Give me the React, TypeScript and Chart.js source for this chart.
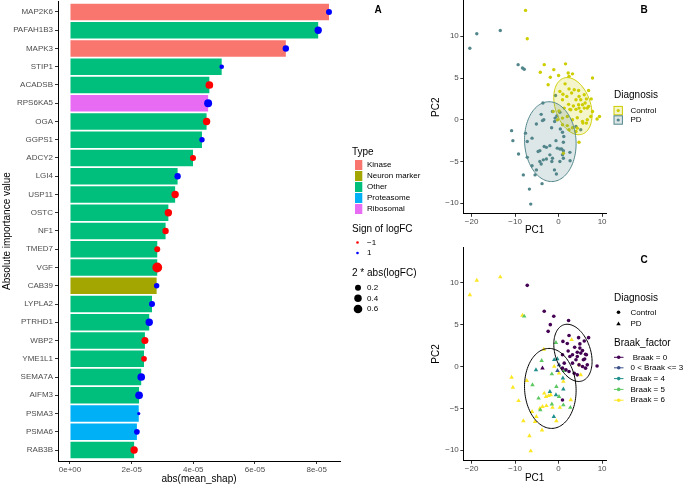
import React, { useEffect, useRef } from "react";
import { Chart, registerables } from "chart.js";
Chart.register(...registerables);

const FONT = "'Liberation Sans', Arial, Helvetica, sans-serif";
const AXIS_TEXT = "#4D4D4D";

// ---------------- Panel A data ----------------
const genes = ["MAP2K6", "PAFAH1B3", "MAPK3", "STIP1", "ACADSB", "RPS6KA5", "OGA", "GGPS1", "ADCY2", "LGI4", "USP11", "OSTC", "NF1", "TMED7", "VGF", "CAB39", "LYPLA2", "PTRHD1", "WBP2", "YME1L1", "SEMA7A", "AIFM3", "PSMA3", "PSMA6", "RAB3B"];
const meanShap = [8.40e-5, 8.05e-5, 7.00e-5, 4.92e-5, 4.52e-5, 4.48e-5, 4.43e-5, 4.28e-5, 3.99e-5, 3.49e-5, 3.41e-5, 3.19e-5, 3.10e-5, 2.83e-5, 2.83e-5, 2.81e-5, 2.66e-5, 2.57e-5, 2.43e-5, 2.40e-5, 2.31e-5, 2.24e-5, 2.23e-5, 2.17e-5, 2.08e-5];
const geneType = ["Kinase", "Other", "Kinase", "Other", "Other", "Ribosomal", "Other", "Other", "Other", "Other", "Other", "Other", "Other", "Other", "Other", "Neuron marker", "Other", "Other", "Other", "Other", "Other", "Other", "Proteasome", "Proteasome", "Other"];
const logFCSign = [1, 1, 1, 1, -1, 1, -1, 1, -1, 1, -1, -1, -1, -1, -1, 1, 1, 1, -1, -1, 1, 1, 1, 1, -1];
const logFCSize = [0.20, 0.38, 0.24, 0.08, 0.43, 0.48, 0.38, 0.14, 0.20, 0.24, 0.38, 0.38, 0.24, 0.20, 0.85, 0.14, 0.20, 0.38, 0.33, 0.17, 0.43, 0.43, 0.01, 0.17, 0.38];
const typeNames = ["Kinase", "Neuron marker", "Other", "Proteasome", "Ribosomal"];
const typeColors = ["#F8766D", "#A3A500", "#00BF7D", "#00B0F6", "#E76BF3"];
const signLabels = ["\u22121", "1"];
const signColors = ["#FF0000", "#0000FF"];
const sizeBreaks = [0.2, 0.4, 0.6];
const sizeBreakLabels = ["0.2", "0.4", "0.6"];
const shapTicks = [0, 2e-5, 4e-5, 6e-5, 8e-5];
const shapTickLabels = ["0e+00", "2e-05", "4e-05", "6e-05", "8e-05"];

// ---------------- Panels B / C data ----------------
const pcTicksX = [-20, -10, 0, 10];
const pcTicksY = [-10, -5, 0, 5, 10];

const controlB: number[][] = [[-7.6, 13.1], [-7.2, 9.7], [-3.3, 6.6], [1.6, 6.7], [-4.2, 5.7], [-1.1, 6.0], [-1.9, 5.1], [0.0, 5.3], [2.2, 5.6], [3.2, 5.5], [2.4, 5.2], [7.8, 5.0], [-2.4, 4.2], [1.5, 4.3], [2.4, 3.7], [3.6, 3.6], [0.3, 3.4], [4.6, 3.5], [1.0, 3.05], [1.9, 2.8], [3.0, 3.2], [5.9, 3.0], [6.9, 3.5], [4.7, 2.8], [4.0, 2.4], [5.1, 2.4], [7.5, 2.5], [6.4, 2.5], [0.9, 2.4], [2.3, 1.85], [3.4, 1.65], [4.6, 1.8], [5.5, 1.8], [6.1, 2.0], [6.9, 1.6], [5.9, 1.4], [4.7, 1.4], [4.0, 1.25], [2.6, 1.25], [-1.25, 1.0], [0.1, 1.05], [1.3, 1.4], [2.8, 1.2], [5.1, 1.0], [6.6, 1.4], [7.8, 1.0], [-0.25, 0.0], [0.9, 0.2], [2.0, 0.4], [3.2, 0.0], [4.3, 0.25], [5.5, -0.2], [6.6, 0.0], [7.4, 0.4], [0.9, -0.6], [2.0, -0.7], [3.2, -0.95], [4.3, -1.0], [5.6, -0.4], [6.4, -0.4], [2.4, -1.2], [4.0, -1.4], [8.85, 0.1], [9.4, 0.4], [4.7, -2.7], [1.1, -4.0]];
const pdB: number[][] = [[-20.4, 8.56], [-18.8, 10.3], [-13.4, 10.7], [-9.3, 6.6], [-8.3, 6.2], [-7.9, 6.05], [-3.6, 2.0], [-0.7, 2.9], [-10.8, -1.3], [-10.5, -2.5], [-9.2, -4.1], [-8.1, -6.6], [-6.7, -8.3], [-6.4, -10.1], [-3.8, -7.65], [-7.6, -1.6], [-7.2, -2.6], [-6.1, -2.2], [-7.2, -4.5], [-6.1, -5.5], [-5.1, -6.0], [-5.4, -6.6], [-5.1, -0.5], [-3.7, -0.1], [-3.4, 0.0], [-4.0, 0.65], [-4.7, -3.8], [-4.3, -3.7], [-3.3, -3.2], [-2.8, -3.3], [-2.0, -3.1], [-4.3, -5.0], [-4.0, -5.3], [-3.5, -4.8], [-2.8, -4.7], [-2.0, -4.2], [-1.4, -4.6], [-1.55, -5.0], [-1.6, -0.95], [-0.95, -6.0], [-0.5, -6.5], [-0.6, -2.5], [-0.3, -3.4], [0.3, -3.5], [0.7, -3.5], [1.1, -3.7], [0.9, -4.2], [1.1, -4.6], [0.3, -5.0], [2.6, -3.9], [2.65, -4.9], [1.1, -2.7], [1.2, -2.0], [0.9, -1.5], [0.4, -1.1], [-0.9, -0.2], [-0.8, 0.2], [-0.4, 0.45], [0.3, 0.9], [-1.4, 1.0], [4.0, -0.8], [5.1, -1.2]];

const diagnosisNames = ["Control", "PD"];
const diagnosisColors = ["#CDCD00", "#53868B"];
const diagnosisFills = ["rgba(205,205,0,0.2)", "rgba(83,134,139,0.2)"];
// 95% ellipse summaries (centre, half-extent in PC1 / PC2, correlation)
const ellipseCx = [3.3, -1.9];
const ellipseCy = [1.63, -2.62];
const ellipseHx = [4.4, 5.93];
const ellipseHy = [3.42, 4.78];
const ellipseRho = [-0.3, -0.05];

const braakLevels = [" Braak = 0", "0 < Braak <= 3", "Braak = 4", "Braak = 5", "Braak = 6"];
const braakColors = ["#440154", "#3B528B", "#21908C", "#5DC863", "#FDE725"];
const controlC: number[][] = [[-7.2, 9.7], [-3.3, 6.6], [-1.1, 6.0], [2.3, 5.5], [-1.9, 5.0], [-2.4, 4.2], [2.4, 3.7], [1.0, 3.0], [2.0, 2.75], [4.6, 3.45], [5.9, 3.05], [6.9, 3.45], [3.7, 2.3], [4.9, 2.7], [4.9, 2.2], [2.2, 1.85], [4.3, 1.7], [6.2, 1.45], [5.5, 1.9], [0.9, 1.4], [2.6, 1.2], [4.3, 1.2], [5.1, 1.6], [6.0, 0.9], [6.4, 1.4], [4.0, 0.8], [3.2, 0.4], [4.7, 0.2], [5.5, 0.0], [6.2, -0.2], [6.6, 0.2], [1.7, -0.4], [2.4, -0.6], [3.6, -0.8], [4.3, -1.0], [8.85, 0.06], [1.3, 0.4], [0.9, -0.2], [0.9, -4.0], [3.2, 1.4], [5.7, 0.8]];
const pdBraak0: number[][] = [[-3.7, -0.2]];
const pdBraak3: number[][] = [[-0.25, -0.5], [0.1, 0.2]];
const pdBraak4: number[][] = [[-5.2, -0.4], [-1.0, 0.8], [-2.0, -3.0], [-0.6, -3.4], [1.1, -2.7], [-1.1, -6.0], [1.0, -1.4], [-0.3, 0.9]];
const pdBraak5: number[][] = [[-7.9, 6.0], [-0.6, 2.85], [-3.9, 0.7], [-1.55, -0.9], [-6.0, -2.2], [-0.5, -2.4], [-4.6, -3.8], [-4.2, -5.2], [-1.55, -4.5], [1.1, -4.6], [2.7, -4.9], [0.1, -3.6], [1.3, -0.5]];
const pdBraak6: number[][] = [[-20.4, 8.56], [-18.8, 10.3], [-13.4, 10.7], [-8.3, 6.1], [3.0, 3.2], [-3.4, 2.05], [-10.8, -1.3], [-10.5, -2.5], [-9.2, -4.1], [-8.1, -6.5], [-6.7, -8.3], [-6.4, -10.1], [-3.8, -7.6], [-7.3, -1.7], [-6.1, -5.4], [-5.1, -6.0], [-5.4, -6.6], [-3.3, -3.2], [-2.9, -3.6], [-2.3, -3.5], [-1.8, -3.4], [-3.7, -4.8], [-2.8, -4.7], [-1.4, -4.9], [0.3, -4.9], [-0.5, -6.5], [2.8, -4.0], [-1.0, 0.0], [0.1, -0.8], [1.1, -1.8], [5.1, -1.0], [4.7, 0.2], [-4.3, -5.0]];

// ---------------- helpers ----------------
const sizeRadius = (v: number) => 1.18 + 4.06 * Math.sqrt(v);
const fmtNum = (v: number) => (v < 0 ? "\u2212" + Math.abs(v) : String(v));
const tickFont = { family: FONT, size: 8 };
const titleFont = { family: FONT, size: 10, lineHeight: 1 };
const gridStyle = { drawOnChartArea: false, drawTicks: true, tickLength: 3, color: "#333333", lineWidth: 1, offset: false };
const borderStyle = { display: true, color: "#000000", width: 1 };
const fixH = (h: number) => (s: any) => { s.height = h; s.paddingLeft = 0; s.paddingRight = 0; s.paddingTop = 0; s.paddingBottom = 0; };
const fixW = (w: number) => (s: any) => { s.width = w; s.paddingLeft = 0; s.paddingRight = 0; s.paddingTop = 0; s.paddingBottom = 0; };

function ellipsePlugin(fill: boolean) {
  return {
    id: "ellipses",
    afterDatasetsDraw(chart: any) {
      const { ctx, chartArea, scales } = chart;
      const xs = scales.x, ys = scales.y;
      ctx.save();
      ctx.beginPath();
      ctx.rect(chartArea.left, chartArea.top, chartArea.right - chartArea.left, chartArea.bottom - chartArea.top);
      ctx.clip();
      for (let g = 0; g < ellipseCx.length; g++) {
        const s = Math.sqrt(1 - ellipseRho[g] * ellipseRho[g]);
        ctx.beginPath();
        for (let k = 0; k <= 120; k++) {
          const t = (k / 120) * Math.PI * 2;
          const vx = ellipseCx[g] + ellipseHx[g] * Math.cos(t);
          const vy = ellipseCy[g] + ellipseHy[g] * (ellipseRho[g] * Math.cos(t) + s * Math.sin(t));
          const px = xs.getPixelForValue(vx), py = ys.getPixelForValue(vy);
          if (k === 0) ctx.moveTo(px, py); else ctx.lineTo(px, py);
        }
        ctx.closePath();
        if (fill) {
          ctx.fillStyle = diagnosisFills[g];
          ctx.fill();
          ctx.strokeStyle = diagnosisColors[g];
        } else {
          ctx.strokeStyle = "#000000";
        }
        ctx.lineWidth = 1;
        ctx.stroke();
      }
      ctx.restore();
    },
  };
}

function pcOptions(padTop: number, xHeight: number, xTitlePad: number) {
  return {
    responsive: false,
    animation: false,
    events: [],
    layout: { autoPadding: false, padding: { top: padTop, right: 4, left: 0, bottom: 0 } },
    plugins: { legend: { display: false }, tooltip: { enabled: false } },
    scales: {
      x: {
        type: "linear", min: -21.9, max: 10.9, offset: false,
        afterBuildTicks: (s: any) => { s.ticks = pcTicksX.map((v) => ({ value: v })); },
        afterFit: fixH(xHeight),
        ticks: { font: tickFont, color: AXIS_TEXT, padding: 0.5, maxRotation: 0, minRotation: 0, autoSkip: false, callback: (v: number) => fmtNum(v) },
        grid: gridStyle, border: borderStyle,
        title: { display: true, text: "PC1", color: "#000", font: titleFont, padding: { top: 0, bottom: xTitlePad } },
      },
      y: {
        type: "linear", min: -11.26, max: 14.26, offset: false,
        afterBuildTicks: (s: any) => { s.ticks = pcTicksY.map((v) => ({ value: v })); },
        afterFit: fixW(43.3),
        ticks: { font: tickFont, color: AXIS_TEXT, padding: 1.5, autoSkip: false, callback: (v: number) => fmtNum(v) },
        grid: gridStyle, border: borderStyle,
        title: { display: true, text: "PC2", color: "#000", font: titleFont, padding: { top: 11.7, bottom: 0 } },
      },
    },
  };
}

const toXY = (arr: number[][]) => arr.map((p) => ({ x: p[0], y: p[1] }));

function buildA(): any {
  return {
    type: "bar",
    data: {
      datasets: [
        {
          type: "bar", indexAxis: "y", order: 2,
          data: genes.map((g, i) => ({ x: meanShap[i], y: i })),
          backgroundColor: geneType.map((t) => typeColors[typeNames.indexOf(t)]),
          barPercentage: 0.91, categoryPercentage: 1, borderWidth: 0,
        },
        {
          type: "scatter", order: 1,
          data: genes.map((g, i) => ({ x: meanShap[i], y: i })),
          pointRadius: logFCSize.map(sizeRadius),
          pointBackgroundColor: logFCSign.map((s) => (s < 0 ? signColors[0] : signColors[1])),
          pointBorderWidth: 0,
        },
      ],
    },
    options: {
      responsive: false, animation: false, events: [],
      layout: { autoPadding: false, padding: { top: 1, right: 5, left: 0, bottom: 0 } },
      plugins: { legend: { display: false }, tooltip: { enabled: false } },
      scales: {
        x: {
          type: "linear", min: -3.89e-6, max: 8.757e-5, offset: false,
          afterBuildTicks: (s: any) => { s.ticks = shapTicks.map((v) => ({ value: v })); },
          afterFit: fixH(24),
          ticks: { font: tickFont, color: AXIS_TEXT, padding: 0.5, maxRotation: 0, minRotation: 0, autoSkip: false, callback: (v: number, i: number) => shapTickLabels[i] },
          grid: gridStyle, border: borderStyle,
          title: { display: true, text: "abs(mean_shap)", color: "#000", font: titleFont, padding: { top: 0, bottom: 1 } },
        },
        y: {
          type: "linear", reverse: true, min: -0.6, max: genes.length - 0.4, offset: false,
          afterBuildTicks: (s: any) => { s.ticks = genes.map((g, i) => ({ value: i })); },
          afterFit: fixW(58),
          ticks: { font: tickFont, color: AXIS_TEXT, padding: 2, autoSkip: false, callback: (v: number, i: number) => genes[i] },
          grid: gridStyle, border: borderStyle,
          title: { display: true, text: "Absolute importance value", color: "#000", font: titleFont, padding: { top: 2, bottom: 0 } },
        },
      },
    },
  };
}

function buildB(): any {
  return {
    type: "scatter",
    data: {
      datasets: [
        { data: toXY(controlB), pointRadius: 1.7, pointBackgroundColor: diagnosisColors[0], pointBorderWidth: 0 },
        { data: toXY(pdB), pointRadius: 1.7, pointBackgroundColor: diagnosisColors[1], pointBorderWidth: 0 },
      ],
    },
    options: pcOptions(0.7, 28.2, 7),
    plugins: [ellipsePlugin(true)],
  };
}

function buildC(): any {
  const tri = (arr: number[][], lvl: number) => ({ data: toXY(arr), pointStyle: "triangle", pointRadius: 2.6, pointBackgroundColor: braakColors[lvl], pointBorderWidth: 0 });
  return {
    type: "scatter",
    data: {
      datasets: [
        { data: toXY(controlC), pointRadius: 1.8, pointBackgroundColor: braakColors[0], pointBorderWidth: 0 },
        tri(pdBraak0, 0),
        tri(pdBraak3, 1),
        tri(pdBraak4, 2),
        tri(pdBraak5, 3),
        tri(pdBraak6, 4),
      ],
    },
    options: pcOptions(2.2, 24.3, 1.7),
    plugins: [ellipsePlugin(false)],
  };
}

function ChartBox({ left, top, width, height, build }: any) {
  const ref = useRef<HTMLCanvasElement | null>(null);
  useEffect(() => {
    const chart = new Chart(ref.current as HTMLCanvasElement, build());
    return () => chart.destroy();
  }, []);
  return (
    <div style={{ position: "absolute", left, top, width, height }}>
      <canvas ref={ref} width={width} height={height} style={{ width, height, display: "block" }} />
    </div>
  );
}

function T({ x, y, size = 8, bold = false, children }: any) {
  return (
    <div style={{ position: "absolute", left: x, top: y - size * 0.6, fontSize: size, lineHeight: `${size * 1.2}px`, fontFamily: FONT, fontWeight: bold ? "bold" : "normal", whiteSpace: "pre", color: "#000" }}>
      {children}
    </div>
  );
}

const typeRowY = [165, 176, 187, 198, 209];
const signRowY = [242.5, 253];
const sizeRowY = [287.7, 298.3, 309];
const diagRowYB = [110.6, 120];
const diagRowYC = [312.3, 324];
const braakRowY = [357.3, 367.8, 378.6, 389.4, 400.2];

export default function App() {
  return (
    <div style={{ position: "absolute", left: 0, top: 0, width: 685, height: 485, overflow: "hidden", background: "#fff", fontFamily: FONT }}>
      <ChartBox left={0} top={0} width={345} height={485} build={buildA} />
      <ChartBox left={420} top={0} width={190} height={242} build={buildB} />
      <ChartBox left={420} top={245} width={190} height={240} build={buildC} />

      <svg width={685} height={485} style={{ position: "absolute", left: 0, top: 0, pointerEvents: "none" }}>
        {typeNames.map((t, i) => (
          <rect key={t} x={355} y={typeRowY[i] - 5} width={7.3} height={10} fill={typeColors[i]} />
        ))}
        {signLabels.map((s, i) => (
          <circle key={s} cx={357.5} cy={signRowY[i]} r={1.3} fill={signColors[i]} />
        ))}
        {sizeBreaks.map((v, i) => (
          <circle key={v} cx={358} cy={sizeRowY[i]} r={sizeRadius(v)} fill="#000" />
        ))}
        {diagnosisNames.map((d, i) => (
          <g key={d}>
            <rect x={614} y={diagRowYB[i] - 4.2} width={8.4} height={8.4} fill={diagnosisFills[i]} stroke={diagnosisColors[i]} strokeWidth={1} />
            <circle cx={618.2} cy={diagRowYB[i]} r={1.6} fill={diagnosisColors[i]} />
          </g>
        ))}
        <circle cx={618.5} cy={diagRowYC[0]} r={1.8} fill="#000" />
        <polygon points={`618.5,${diagRowYC[1] - 2.6} ${618.5 + 2.25},${diagRowYC[1] + 1.3} ${618.5 - 2.25},${diagRowYC[1] + 1.3}`} fill="#000" />
        {braakLevels.map((b, i) => (
          <g key={b}>
            <line x1={614} x2={623.5} y1={braakRowY[i]} y2={braakRowY[i]} stroke={braakColors[i]} strokeWidth={1} />
            <circle cx={618.7} cy={braakRowY[i]} r={1.8} fill={braakColors[i]} />
          </g>
        ))}
      </svg>

      <T x={374.5} y={10} size={10} bold>A</T>
      <T x={640.5} y={10} size={10} bold>B</T>
      <T x={640.5} y={260} size={10} bold>C</T>

      <T x={352} y={151.7} size={10}>Type</T>
      {typeNames.map((t, i) => <T key={t} x={367} y={typeRowY[i]}>{t}</T>)}
      <T x={352} y={228.7} size={10}>Sign of logFC</T>
      {signLabels.map((s, i) => <T key={s} x={367} y={signRowY[i]}>{s}</T>)}
      <T x={352} y={273.3} size={10}>2 * abs(logFC)</T>
      {sizeBreakLabels.map((s, i) => <T key={s} x={367} y={sizeRowY[i]}>{s}</T>)}

      <T x={614} y={94.7} size={10}>Diagnosis</T>
      {diagnosisNames.map((d, i) => <T key={d} x={630.5} y={diagRowYB[i]}>{d}</T>)}

      <T x={614} y={297.7} size={10}>Diagnosis</T>
      {diagnosisNames.map((d, i) => <T key={d} x={630.5} y={diagRowYC[i]}>{d}</T>)}
      <T x={614} y={343.3} size={10}>Braak_factor</T>
      {braakLevels.map((b, i) => <T key={b} x={630.5} y={braakRowY[i]}>{b}</T>)}
    </div>
  );
}
